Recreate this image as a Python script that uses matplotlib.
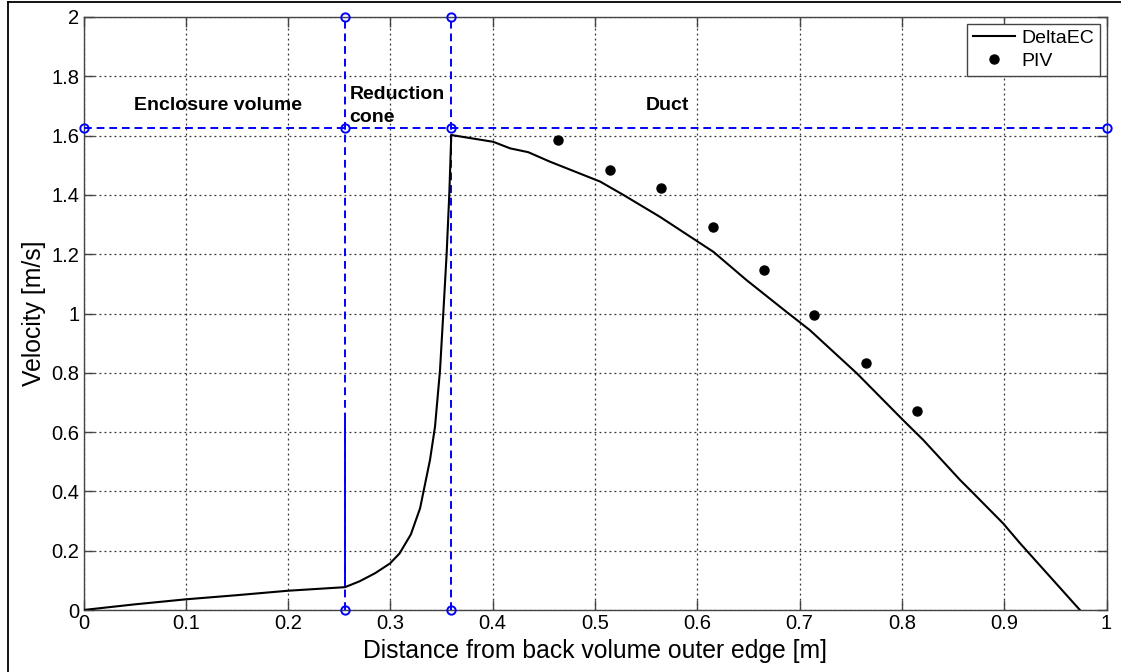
import matplotlib
matplotlib.use("Agg")
import matplotlib.pyplot as plt
from matplotlib.lines import Line2D

plt.rcParams['font.family'] = ['Liberation Sans', 'DejaVu Sans']

# DeltaEC model curve
deltaec_x = [0.0, 0.05, 0.1, 0.15, 0.2, 0.2556, 0.27, 0.285, 0.2996, 0.309, 0.32, 0.329, 0.3387, 0.3436,
             0.3485, 0.3517, 0.355, 0.3576, 0.3595,
             0.4006, 0.417, 0.4348, 0.456, 0.505, 0.5277, 0.5635, 0.6157, 0.648, 0.687,
             0.710, 0.756, 0.801, 0.821, 0.857, 0.8666, 0.899, 0.9155, 0.974]
deltaec_y = [0.0, 0.019, 0.036, 0.050, 0.065, 0.077, 0.097, 0.124, 0.157, 0.191, 0.255, 0.343, 0.506, 0.618,
             0.809, 1.0, 1.203, 1.405, 1.602,
             1.579, 1.557, 1.544, 1.512, 1.445, 1.40, 1.326, 1.208, 1.113, 1.006,
             0.944, 0.798, 0.641, 0.573, 0.438, 0.405, 0.292, 0.225, 0.0]

# PIV measurements
piv_x = [0.464, 0.515, 0.5645, 0.615, 0.665, 0.7144, 0.7646, 0.8145]
piv_y = [1.585, 1.484, 1.422, 1.291, 1.148, 0.995, 0.832, 0.671]

# Region boundaries
x_bounds = [0.2556, 0.359]
y_level = 1.625
solid_seg_y = [0.077, 0.64]

region_labels = ["Enclosure volume", "Reduction\ncone", "Duct"]
region_label_x = [0.131, 0.260, 0.571]
region_label_y = [1.70, 1.766, 1.70]

xticks = [0, 0.1, 0.2, 0.3, 0.4, 0.5, 0.6, 0.7, 0.8, 0.9, 1]
xticklabels = ["0", "0.1", "0.2", "0.3", "0.4", "0.5", "0.6", "0.7", "0.8", "0.9", "1"]
yticks = [0, 0.2, 0.4, 0.6, 0.8, 1.0, 1.2, 1.4, 1.6, 1.8, 2.0]
yticklabels = ["0", "0.2", "0.4", "0.6", "0.8", "1", "1.2", "1.4", "1.6", "1.8", "2"]

fig = plt.figure(figsize=(11.21, 6.72), dpi=100)
ax = fig.add_axes([83.5 / 1121, 1 - 610 / 672, 1023 / 1121, 593 / 672])

blue = (0, 0, 1)
for xb in x_bounds:
    ax.plot([xb, xb], [0, 2], color=blue, lw=1.4, ls=(0, (4, 2.5)), marker='o',
            ms=6, mfc='none', mec=blue, mew=1.4, zorder=3, clip_on=False)
ax.plot([0, x_bounds[0], x_bounds[1], 1], [y_level] * 4, color=blue, lw=1.4,
        ls=(0, (4, 2.5)), marker='o', ms=6, mfc='none', mec=blue, mew=1.4,
        zorder=3, clip_on=False)
ax.plot([x_bounds[0], x_bounds[0]], solid_seg_y, color=blue, lw=1.4, zorder=3)

l1, = ax.plot(deltaec_x, deltaec_y, color='black', lw=1.5, zorder=4, label='DeltaEC')
l2, = ax.plot(piv_x, piv_y, ls='none', marker='o', color='black', ms=6.5, zorder=5, label='PIV')

for t, tx, ty in zip(region_labels, region_label_x, region_label_y):
    if "\n" in t:
        ax.text(tx, ty, t, ha='left', va='top', fontsize=14, fontweight='bold',
                linespacing=1.4)
    else:
        ax.text(tx, ty, t, ha='center', va='center', fontsize=14, fontweight='bold')

ax.set_xlim(0, 1)
ax.set_ylim(0, 2)
ax.set_xticks(xticks)
ax.set_xticklabels(xticklabels)
ax.set_yticks(yticks)
ax.set_yticklabels(yticklabels)
ax.grid(True, color='#333333', ls=(0, (1.5, 2.5)), lw=0.9)
ax.tick_params(direction='in', length=7, width=1, colors='#444444', labelcolor='black',
               labelsize=14.5, top=True, right=True, pad=3)
for s in ax.spines.values():
    s.set_color('#444444')
    s.set_linewidth(1.0)

ax.set_xlabel('Distance from back volume outer edge [m]', fontsize=17.8, labelpad=4)
ax.set_ylabel('Velocity [m/s]', fontsize=17.8, labelpad=4)

leg = ax.legend(handles=[l1, l2], loc='upper right', fontsize=14, frameon=True,
                fancybox=False, edgecolor='#444444', framealpha=1, borderpad=0.3,
                handlelength=2.2, handletextpad=0.3, labelspacing=0.25,
                borderaxespad=0.35)
leg.get_frame().set_linewidth(1.0)

# figure border (left and top)
fig.add_artist(Line2D([8.3 / 1121, 8.3 / 1121], [0, 1 - 2.3 / 672], color='black', lw=1.3,
                      transform=fig.transFigure))
fig.add_artist(Line2D([8.3 / 1121, 1], [1 - 2.3 / 672, 1 - 2.3 / 672], color='black', lw=1.3,
                      transform=fig.transFigure))

fig.savefig('out.png', dpi=100)
